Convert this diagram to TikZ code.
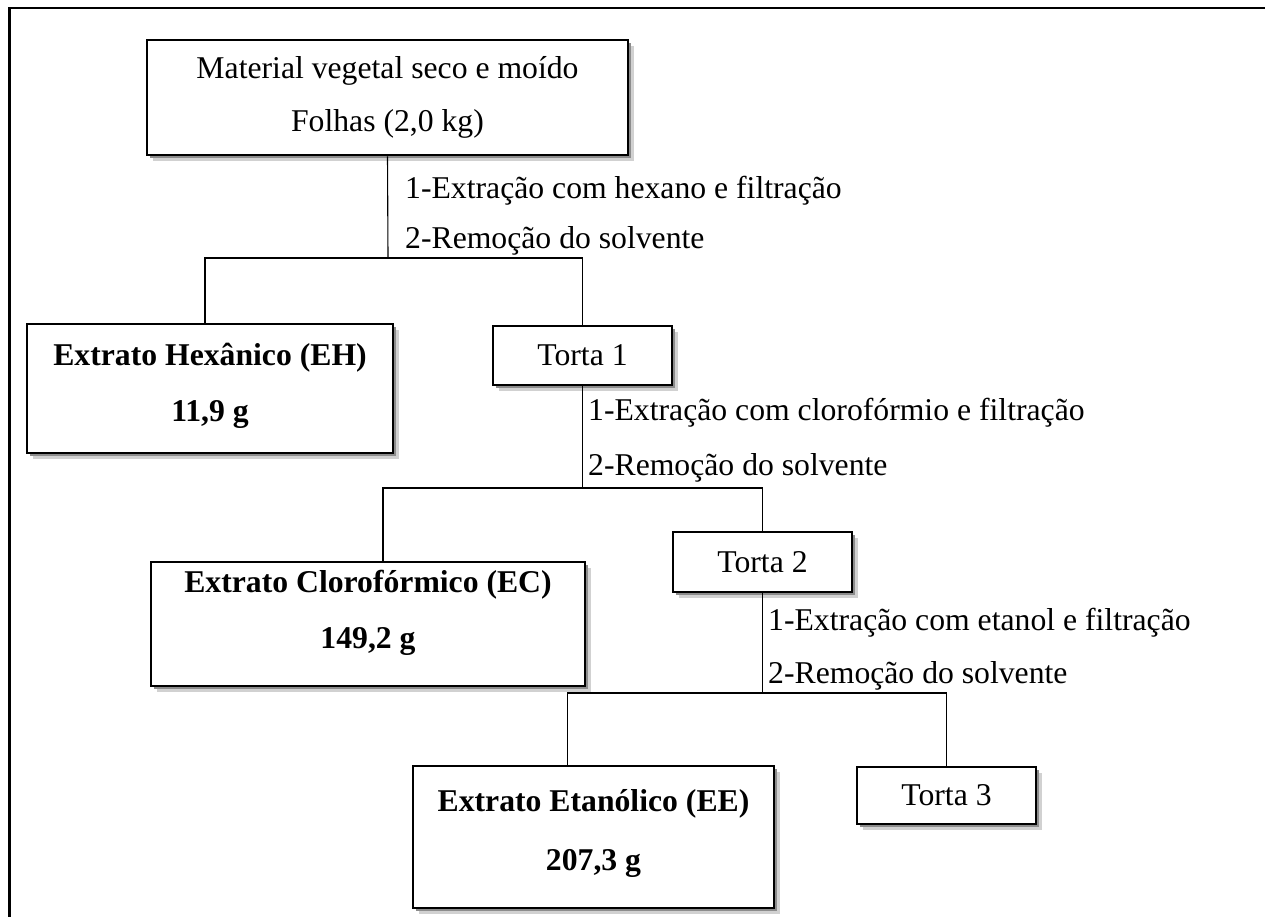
\documentclass[tikz,border=0pt]{standalone}
\usepackage{fontspec}
\setmainfont{Liberation Serif}
\usetikzlibrary{shadows}
\tikzset{
  box/.style={draw, line width=2.6pt, fill=white, inner sep=0pt, align=center,
    font=\fontsize{31.7pt}{56pt}\selectfont,
    drop shadow={shadow xshift=5.5pt, shadow yshift=-5.5pt, fill=black!18, opacity=1},
    drop shadow={shadow xshift=3pt, shadow yshift=-3pt, fill=black!45, opacity=1}},
  bbox/.style={box, font=\fontsize{31.7pt}{56pt}\selectfont\bfseries},
  lbl/.style={anchor=west, inner sep=0pt, font=\fontsize{31.7pt}{38pt}\selectfont},
  conn/.style={line width=1.1pt},
  frame/.style={line width=2.6pt}
}
\begin{document}
\begin{tikzpicture}[x=1pt,y=-1pt]
\useasboundingbox (0,0) rectangle (1265,916);
\coordinate (fa) at (9.5,930);
\coordinate (fb) at (9.5,8);
\coordinate (fc) at (1275,8);
\draw[frame] (fa) -- (fb) -- (fc);

% boxes
\node[box, minimum width=481pt, minimum height=115pt,
  font=\fontsize{31.7pt}{53pt}\selectfont] (top) at (387.5,97.5)
  {Material vegetal seco e moído\\Folhas (2,0 kg)};
\node[bbox, minimum width=366pt, minimum height=129pt] (eh) at (210,388.5)
  {Extrato Hexânico (EH)\\11,9 g\rule[-13pt]{0pt}{0pt}};
\node[box, minimum width=179pt, minimum height=59pt] (t1) at (582.5,355.5) {Torta 1};
\node[bbox, minimum width=434pt, minimum height=124pt] (ec) at (368,624)
  {Extrato Clorofórmico (EC)\\149,2 g\rule[-30pt]{0pt}{0pt}};
\node[box, minimum width=179pt, minimum height=60pt] (t2) at (762.5,562) {Torta 2};
\node[bbox, minimum width=361pt, minimum height=142pt,
  font=\fontsize{31.7pt}{59pt}\selectfont\bfseries] (ee) at (593.5,837)
  {Extrato Etanólico (EE)\\207,3 g\rule[-15pt]{0pt}{0pt}};
\node[box, minimum width=179pt, minimum height=57pt] (t3) at (946.5,795.5) {Torta 3};

% junctions
\coordinate (j1) at (388,258);
\coordinate (j2) at (581,488);
\coordinate (j3) at (760,693);

% connectors
\draw[conn] (top.south) -- (j1);
\draw[conn] ([xshift=-5pt]eh.north) -- ([xshift=-5pt]eh.north |- j1) -- (t1.north |- j1) -- (t1.north);
\draw[conn] (t1.south) -- (t1.south |- j2);
\draw[conn] ([xshift=15pt]ec.north) -- ([xshift=15pt]ec.north |- j2) -- (t2.north |- j2) -- (t2.north);
\draw[conn] (t2.south) -- (t2.south |- j3);
\draw[conn] ([xshift=-26pt]ee.north) -- ([xshift=-26pt]ee.north |- j3) -- (t3.north |- j3) -- (t3.north);

% labels
\node[lbl] (l1a) at (405,191) {1-Extração com hexano e filtração};
\node[lbl] (l1b) at (405,241) {2-Remoção do solvente};
\node[lbl] (l2a) at (588,413) {1-Extração com clorofórmio e filtração};
\node[lbl] (l2b) at (588,468) {2-Remoção do solvente};
\node[lbl] (l3a) at (768,623) {1-Extração com etanol e filtração};
\node[lbl] (l3b) at (768,676) {2-Remoção do solvente};
\end{tikzpicture}
\end{document}
